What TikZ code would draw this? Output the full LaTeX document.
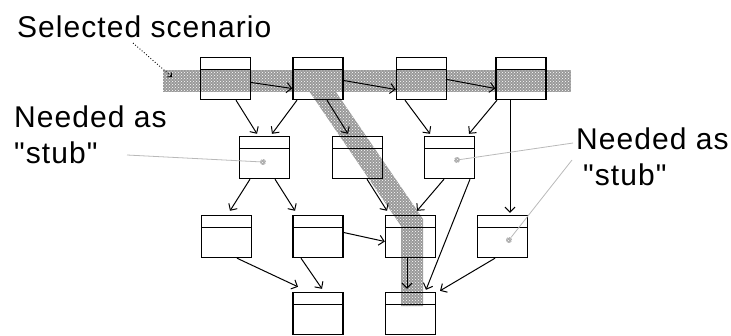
\documentclass[tikz,border=0pt]{standalone}
\usepackage{fontspec}
\newfontfamily\lblfont[LetterSpace=3.5]{Liberation Sans}
\usetikzlibrary{arrows.meta,patterns}
\tikzset{
  % class box: outline plus a header bar
  cbox/.style={rectangle, draw=black, line width=1.4pt, minimum width=50pt, minimum height=42pt, inner sep=0pt,
    path picture={\draw[line width=1.4pt] ([yshift=-12pt]path picture bounding box.north west)
      -- ([yshift=-12pt]path picture bounding box.north east);}},
  % dependency arrow
  dep/.style={-{Straight Barb[length=5pt,width=10pt]}, line width=1pt},
  % shaded scenario band
  band/.style={fill=gray!80, postaction={pattern=crosshatch dots, pattern color=white}},
  % stub marker inside a box
  stubmark/.style={circle, inner sep=0pt, minimum size=6pt, fill=gray!65,
    postaction={pattern=crosshatch dots, pattern color=white}},
  % grey pointer line
  leader/.style={gray!55, line width=0.8pt},
  % label text
  lbl/.style={font=\lblfont\fontsize{30}{36}\selectfont, inner sep=0pt, anchor=base west},
}

\begin{document}
\begin{tikzpicture}[x=1pt, y=-1pt]
  \useasboundingbox (0,0) rectangle (731,335);

  % ── scenario band ──
  \fill[band] (163,70) rectangle (571,92);
  \fill[band] (309,91) -- (327,79) -- (423,219) -- (423,306) -- (401,306) -- (401,226) -- cycle;

  % ── boxes ──
  \node[cbox] (A) at (225.5,78.5) {};
  \node[cbox] (B) at (318,78.5) {};
  \node[cbox] (C) at (421.5,78.5) {};
  \node[cbox] (D) at (521,78.5) {};

  \node[cbox] (E) at (264.5,157.5) {};
  \node[cbox] (F) at (357.5,157.5) {};
  \node[cbox] (G) at (449.5,157.5) {};

  \node[cbox] (H) at (226.5,236.5) {};
  \node[cbox] (I) at (318,236.5) {};
  \node[cbox] (J) at (410.5,236.5) {};
  \node[cbox] (K) at (502.5,236.5) {};

  \node[cbox] (L) at (318,313.5) {};
  \node[cbox] (M) at (410.5,313.5) {};

  % ── scenario chain ──
  \draw[dep] ([yshift=-4pt]A.east) -- ([yshift=-10pt]B.west);
  \draw[dep] ([yshift=-2pt]B.east) -- ([yshift=-11pt]C.west);
  \draw[dep] ([yshift=-1pt]C.east) -- ([yshift=-10pt]D.west);

  % ── dependencies ──
  \draw[dep] ([xshift=10.5pt]A.south) -- ([xshift=-7.5pt,yshift=2pt]E.north);
  \draw[dep] ([xshift=-21pt]B.south) -- ([xshift=7.5pt,yshift=2pt]E.north);
  \draw[dep] ([xshift=9pt]B.south) -- ([xshift=-9.5pt,yshift=2pt]F.north);
  \draw[dep] ([xshift=-16.5pt]C.south) -- ([xshift=-19.5pt,yshift=2pt]G.north);
  \draw[dep] ([xshift=-24pt]D.south) -- ([xshift=19.5pt,yshift=2pt]G.north);
  \draw[dep] ([xshift=-11pt]D.south) -- ([xshift=7.5pt,yshift=2pt]K.north);

  \draw[dep] ([xshift=-14.5pt]E.south) -- ([xshift=3.5pt,yshift=4pt]H.north);
  \draw[dep] ([xshift=10.5pt]E.south) -- ([xshift=-23pt,yshift=4pt]I.north);
  \draw[dep] ([xshift=9.5pt]F.south) -- ([xshift=-23.5pt,yshift=4pt]J.north);
  \draw[dep] ([xshift=-5.5pt]G.south) -- ([xshift=6.5pt,yshift=4pt]J.north);
  \draw[dep] ([xshift=20.5pt]G.south) -- ([xshift=15.5pt,yshift=2pt]M.north);
  \draw[dep] ([yshift=4pt]I.east) -- ([yshift=-5pt]J.west);

  \draw[dep] ([xshift=10.5pt]H.south) -- ([xshift=-20pt,yshift=5pt]L.north);
  \draw[dep] ([xshift=-17pt]I.south) -- ([xshift=4pt,yshift=3pt]L.north);
  \draw[dep] ([xshift=-3.5pt]J.south) -- ([xshift=-3.5pt,yshift=3pt]M.north);
  \draw[dep] ([xshift=-7.5pt]K.south) -- ([xshift=29.5pt,yshift=1pt]M.north);

  % ── stub markers ──
  \node[stubmark] (Em) at (263,162) {};
  \node[stubmark] (Gm) at (457,160) {};
  \node[stubmark] (Km) at (509,240) {};

  % ── labels ──
  \node[lbl] (sel) at (17,37) {Selected scenario};
  \node[lbl] (need1) at (14,127) {Needed as};
  \node[lbl] (stub1) at (14,163) {"stub"};
  \node[lbl] (need2) at (576,149) {Needed as};
  \node[lbl] (stub2) at (583,185) {"stub"};

  \coordinate (selstart) at (133,43);
  \coordinate (selend) at (172,77);
  \coordinate (lead1) at (127,155);
  \coordinate (lead2) at (573,143);
  \coordinate (lead3) at (572,160);

  \draw[dotted, line width=0.9pt, -{Straight Barb[length=3pt,width=6pt]}] (selstart) -- (selend);
  \draw[leader] (lead1) -- (Em);
  \draw[leader] (lead2) -- (Gm);
  \draw[leader] (lead3) -- (Km);

\end{tikzpicture}
\end{document}
